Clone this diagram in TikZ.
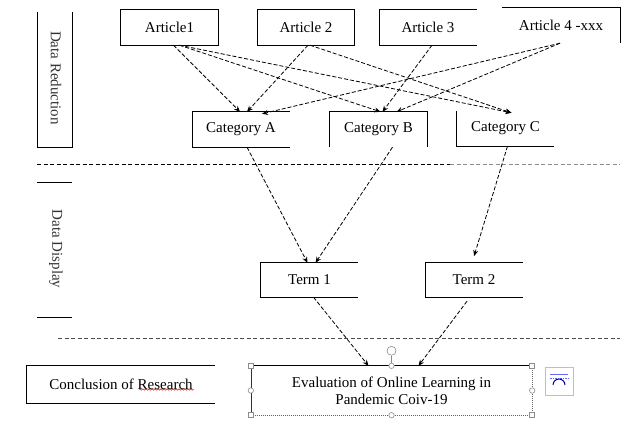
\documentclass[tikz,border=0pt]{standalone}
\usepackage{fontspec}
\setmainfont{Liberation Serif}
\usetikzlibrary{arrows.meta,decorations.pathmorphing}
\begin{document}
\begin{tikzpicture}[x=1pt,y=-1pt,
  lbl/.style={inner sep=0pt,minimum width=97pt,minimum height=35pt,font=\fontsize{15}{17}\selectfont},
  side/.style={line width=1pt,black},
  arr/.style={line width=0.8pt,dash pattern=on 4pt off 2pt,-{Stealth[length=6pt,width=5pt]}},
  sep/.style={line width=0.9pt,dash pattern=on 4pt off 2.5pt},
  handle/.style={draw=black!45,fill=white,line width=0.6pt}]
\useasboundingbox (0,0) rectangle (626,421);
% side labels
\node[rotate=-90,font=\fontsize{15}{17}\selectfont,text=black!80] (dr) at (56,78) {Data Reduction};
\draw[side] (37,12) -- (37,147) -- (72,147) -- (72,12);
\node[rotate=-90,font=\fontsize{15}{17}\selectfont,text=black!80] (dd) at (56,249) {Data Display};
\draw[side] (37,182) -- (72,182);
\draw[side] (37,317) -- (72,317);
% separators
\draw[sep] (37,164) -- (450,164);
\draw[sep,black!45] (450,164) -- (620,164);
\draw[sep,black!70] (58,338) -- (620,338);
% articles
\node[lbl] (a1) at (169.5,27.5) {Article1};
\draw[side] (a1.north west) rectangle (a1.south east);
\node[lbl] (a2) at (306,27.5) {Article 2};
\draw[side] (a2.north west) rectangle (a2.south east);
\node[lbl] (a3) at (428,27.5) {Article 3};
\draw[side] (a3.north east) -- (a3.north west) -- (a3.south west) -- (a3.south east);
\node[lbl,minimum width=118pt] (a4) at (561,25.5) {Article 4 -xxx};
\draw[side] (a4.north west) -- (a4.north east) -- (a4.south east);
% categories
\node[lbl] (ca) at (241,129.5) {Category A};
\draw[side] (ca.north east) -- (ca.north west) -- (ca.south west) -- (ca.south east);
\node[lbl] (cb) at (378.5,129.5) {Category B};
\draw[side] (cb.south west) -- (cb.north west) -- (cb.north east) -- (cb.south east);
\node[lbl] (cc) at (505.5,128.5) {Category C};
\draw[side] (cc.north west) -- (cc.south west) -- (cc.south east);
% terms
\node[lbl,minimum height=34pt] (t1) at (309.5,280) {Term 1};
\draw[side] (t1.north east) -- (t1.north west) -- (t1.south west) -- (t1.south east);
\node[lbl,minimum height=34pt] (t2) at (474,280) {Term 2};
\draw[side] (t2.north east) -- (t2.north west) -- (t2.south west) -- (t2.south east);
% conclusion
\node[lbl,minimum width=188pt,minimum height=37pt] (cr) at (121,384.5) {Conclusion of Research};
\draw[side] (cr.north east) -- (cr.north west) -- (cr.south west) -- (cr.south east);
\draw[red,line width=0.5pt,decorate,decoration={snake,amplitude=0.7pt,segment length=3pt}] (139,389.5) -- (194,389.5);
\node[lbl,minimum width=281pt,minimum height=49pt,align=center] (ev) at (391.5,390.5) {Evaluation of Online Learning in\\Pandemic Coiv-19};
\draw[side] (ev.north west) -- (ev.north east);
\draw[line width=0.6pt,black!80] (ev.north west) -- (ev.south west);
\draw[line width=0.6pt,black!60,dash pattern=on 1pt off 1pt] (ev.south west) -- (ev.south east) -- (ev.north east);
% selection handles
\draw[black!45,line width=0.6pt] (ev.north) -- ++(0,-10);
\draw[handle] ([yshift=15pt]ev.north) circle (4.5pt);
\foreach \a in {north west,north east,south west,south east}
  \draw[handle] ([xshift=-2.5pt,yshift=-2.5pt]ev.\a) rectangle ([xshift=2.5pt,yshift=2.5pt]ev.\a);
\foreach \a in {north,south,west,east}
  \draw[handle] (ev.\a) circle (2.7pt);
% layout icon
\draw[black!25,fill=white] (545,367) rectangle (573,395);
\draw[blue!60,line width=0.8pt] (550,374) -- (568,374);
\draw[blue!60,line width=0.8pt,dash pattern=on 1.5pt off 1pt] (550,378) -- (568,378);
\draw[blue!60!black,line width=1pt] (553,385) arc (180:0:6pt);
% arrows level 1
\draw[arr] ([xshift=4]a1.south) -- ([xshift=-1]ca.north);
\draw[arr] ([xshift=10]a1.south) -- ([xshift=2]cb.north);
\draw[arr] ([xshift=10]a1.south) -- ([xshift=6,yshift=-2]cc.north);
\draw[arr] ([xshift=2]a2.south) -- ([xshift=6]ca.north);
\draw[arr] ([xshift=4]a2.south) -- ([xshift=6,yshift=-2]cc.north);
\draw[arr] ([xshift=4]a3.south) -- ([xshift=4]cb.north);
\draw[arr] ([xshift=-1]a4.south) -- ([xshift=21,yshift=-2]ca.north);
\draw[arr] ([xshift=-1]a4.south) -- ([xshift=18]cb.north);
% arrows level 2
\draw[arr] ([xshift=6]ca.south) -- ([xshift=-2]t1.north);
\draw[arr] ([xshift=14]cb.south) -- ([xshift=6]t1.north);
\draw[arr,shorten >=7pt] ([xshift=2]cc.south) -- ([xshift=-2]t2.north);
% arrows level 3
\draw[arr] ([xshift=4]t1.south) -- ([xshift=-23]ev.north);
\draw[arr,shorten <=5pt] ([xshift=-4]t2.south) -- ([xshift=27]ev.north);
\end{tikzpicture}
\end{document}
